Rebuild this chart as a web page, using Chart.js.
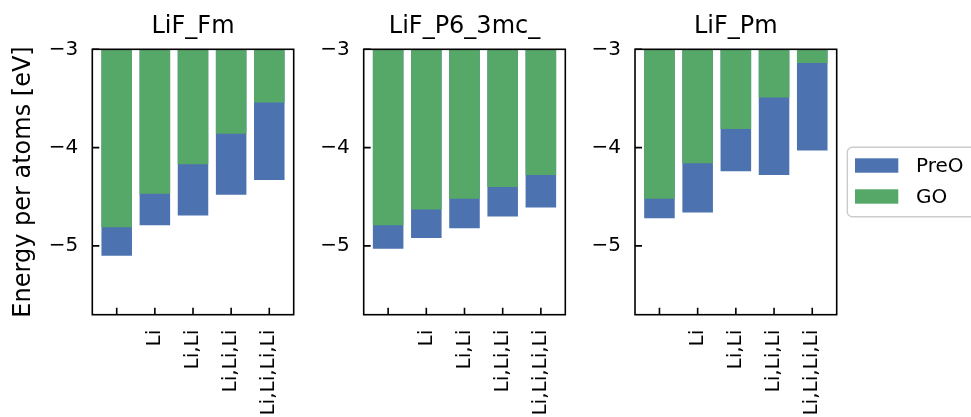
<!DOCTYPE html>
<html>
<head>
<meta charset="utf-8">
<script src="https://cdn.jsdelivr.net/npm/chart.js@4.4.1/dist/chart.umd.min.js"></script>
<style>
  body { margin: 0; background: #fff; width: 971px; height: 417px; overflow: hidden; position: relative; }
  canvas { position: absolute; top: 0; }
</style>
</head>
<body>
<canvas id="c1" width="300" height="417" style="left:0px"></canvas>
<canvas id="c2" width="300" height="417" style="left:272px"></canvas>
<canvas id="c3" width="428" height="417" style="left:543px"></canvas>
<script>
try {

// values (energy per atom, eV)
const tickLabels = ['', 'Li', 'Li,Li', 'Li,Li,Li', 'Li,Li,Li,Li'];
const yTicks = [-5, -4, -3];

const preoFm = [-5.10, -4.79, -4.69, -4.48, -4.33];
const goFm   = [-4.81, -4.47, -4.17, -3.86, -3.54];

const preoP6 = [-5.03, -4.92, -4.82, -4.70, -4.61];
const goP6   = [-4.79, -4.63, -4.52, -4.40, -4.28];

const preoPm = [-4.72, -4.66, -4.24, -4.28, -4.03];
const goPm   = [-4.52, -4.16, -3.81, -3.49, -3.14];

const BLUE = '#4C72B0';
const GREEN = '#55A868';
const FONT = '"DejaVu Sans"';

Chart.defaults.font.family = FONT;
Chart.defaults.color = '#000';

const panels = [
  { id: 'c1', left: 0,   width: 300, axLeft: 92.3,  axRight: 293.7, title: 'LiF_Fm',      preo: preoFm, go: goFm, ylabel: true },
  { id: 'c2', left: 272, width: 300, axLeft: 363.7, axRight: 565.3, title: 'LiF_P6_3mc_', preo: preoP6, go: goP6 },
  { id: 'c3', left: 543, width: 428, axLeft: 635,   axRight: 836.7, title: 'LiF_Pm',      preo: preoPm, go: goPm, legend: true }
];

// frame, inward ticks, title, y label and legend
const decor = {
  id: 'decor',
  afterDatasetsDraw(chart, args, opts) {
    const ctx = chart.ctx;
    const ca = chart.chartArea;
    const xs = chart.scales.x, ys = chart.scales.y;
    ctx.save();
    ctx.strokeStyle = '#000';
    ctx.lineWidth = 1.6;
    ctx.beginPath();
    yTicks.forEach(v => {
      const py = ys.getPixelForValue(v);
      ctx.moveTo(ca.left, py); ctx.lineTo(ca.left + 7, py);
    });
    tickLabels.forEach((t, i) => {
      const px = xs.getPixelForValue(i);
      ctx.moveTo(px, ca.bottom); ctx.lineTo(px, ca.bottom - 7);
    });
    ctx.stroke();
    ctx.strokeRect(ca.left, ca.top, ca.right - ca.left, ca.bottom - ca.top);

    ctx.fillStyle = '#000';
    ctx.font = '24px ' + FONT;
    ctx.textAlign = 'center';
    ctx.textBaseline = 'alphabetic';
    ctx.fillText(opts.title, (ca.left + ca.right) / 2, 33);

    if (opts.ylabel) {
      ctx.save();
      ctx.translate(30, (ca.top + ca.bottom) / 2);
      ctx.rotate(-Math.PI / 2);
      ctx.fillText('Energy per atoms [eV]', 0, 0);
      ctx.restore();
    }

    if (opts.legend) {
      const lx = 847.3 - opts.left, ly = 147.3;
      ctx.beginPath();
      ctx.roundRect(lx, ly, 170, 69.4, 5);
      ctx.fillStyle = 'rgba(255,255,255,0.8)';
      ctx.fill();
      ctx.strokeStyle = '#cccccc';
      ctx.lineWidth = 1.4;
      ctx.stroke();
      const items = [['PreO', BLUE], ['GO', GREEN]];
      ctx.font = '20px ' + FONT;
      ctx.textAlign = 'left';
      items.forEach((it, i) => {
        ctx.fillStyle = it[1];
        ctx.fillRect(lx + 7.7, ly + 11 + i * 31, 43.3, 14.4);
        ctx.fillStyle = '#000';
        ctx.fillText(it[0], lx + 68.7, ly + 25 + i * 31);
      });
    }
    ctx.restore();
  }
};

panels.forEach(p => {
  new Chart(document.getElementById(p.id), {
    type: 'bar',
    data: {
      datasets: [
        { label: 'GO', data: p.go.map((v, i) => ({ x: i, y: v })), backgroundColor: GREEN },
        { label: 'PreO', data: p.preo.map((v, i) => ({ x: i, y: v })), backgroundColor: BLUE }
      ]
    },
    options: {
      responsive: false,
      animation: false,
      events: [],
      grouped: false,
      barPercentage: 1.0,
      categoryPercentage: 0.8,
      layout: { padding: { top: 49.3, right: p.width - (p.axRight - p.left), bottom: 0, left: 0 } },
      scales: {
        x: {
          type: 'linear',
          min: -0.64, max: 4.64,
          offset: false,
          grid: { display: false, drawTicks: false, offset: false },
          border: { display: false },
          afterBuildTicks: s => { s.ticks = tickLabels.map((t, i) => ({ value: i })); },
          afterFit: s => { s.height = 417 - 314.7; s.paddingLeft = 0; s.paddingRight = 0; },
          ticks: {
            autoSkip: false, minRotation: 90, maxRotation: 90, padding: 15,
            font: { size: 20 }, color: '#000',
            callback: v => tickLabels[v]
          }
        },
        y: {
          min: -5.7, max: -3,
          grid: { display: false, drawTicks: false },
          border: { display: false },
          afterBuildTicks: s => { s.ticks = yTicks.map(v => ({ value: v })); },
          afterFit: s => { s.width = p.axLeft - p.left; s.paddingTop = 0; s.paddingBottom = 0; },
          ticks: {
            padding: 14, font: { size: 20 }, color: '#000',
            callback: v => (v < 0 ? '\u2212' : '') + Math.abs(v)
          }
        }
      },
      plugins: {
        legend: { display: false },
        tooltip: { enabled: false },
        decor: { title: p.title, ylabel: !!p.ylabel, legend: !!p.legend, left: p.left }
      }
    },
    plugins: [decor]
  });
});

} catch (err) {
  console.error(err);
}
</script>
</body>
</html>
